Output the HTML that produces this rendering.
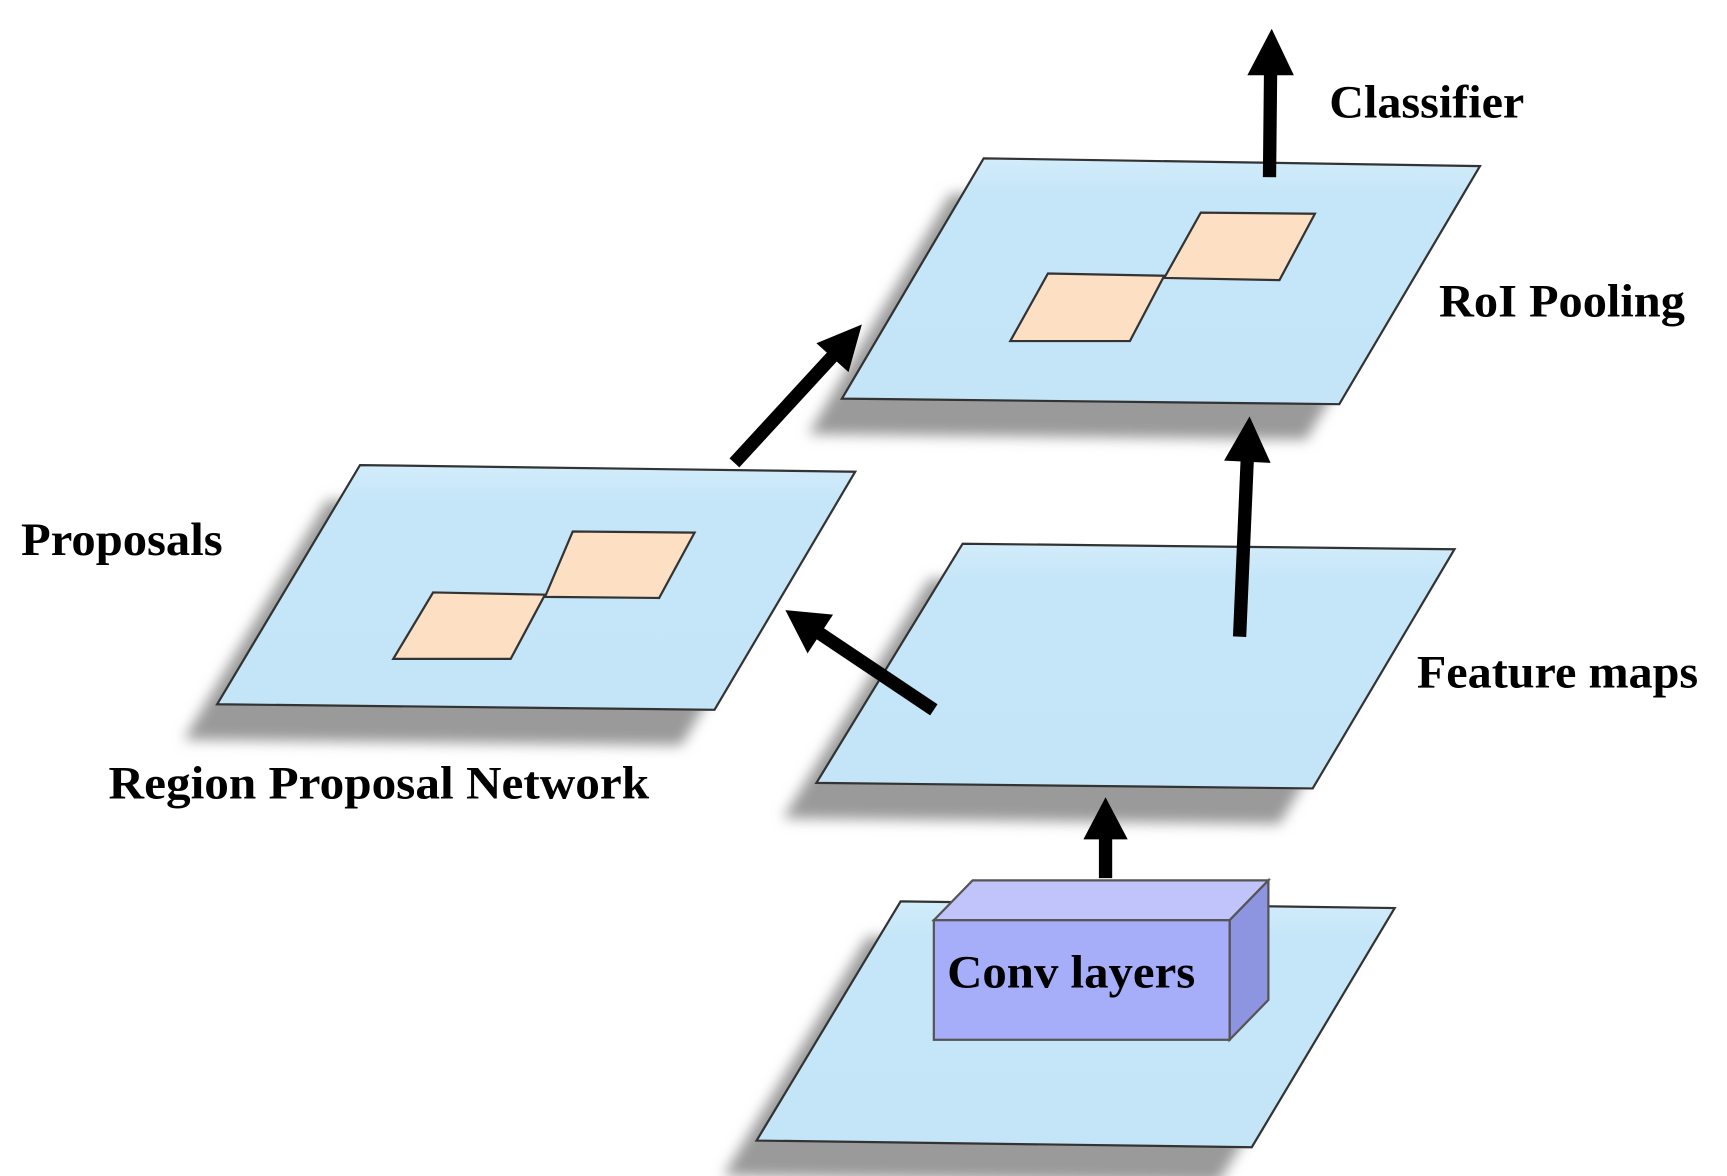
<!DOCTYPE html>
<html><head><style>html,body{margin:0;padding:0;background:#fff;}svg{display:block}</style></head>
<body>
<svg width="1727" height="1176" viewBox="0 0 1559 1062" preserveAspectRatio="none" xmlns="http://www.w3.org/2000/svg">
<defs>
<filter id="b" x="-20%" y="-20%" width="140%" height="140%"><feGaussianBlur stdDeviation="6"/></filter>
<linearGradient id="g" x1="0" y1="0" x2="0" y2="1"><stop offset="0" stop-color="#d2ecfa"/><stop offset="0.15" stop-color="#c4e6f8"/><stop offset="1" stop-color="#c3e5f7"/></linearGradient>
</defs>
<g transform="translate(-5,-2)">
<g fill="#9a9a9a" filter="url(#b)">
<polygon points="873,165 1321,172 1194,387 745,382" transform="translate(-10,12)"/>
<polygon points="310,442 757,448 630,663 181,658" transform="translate(-10,12)"/>
<polygon points="854,513 1298,518 1170,734 722,729" transform="translate(-10,12)"/>
<polygon points="798,836 1244,842 1115,1058 668,1052" transform="translate(-10,12)"/>
</g>
<g fill="url(#g)" stroke="#333" stroke-width="2">
<polygon points="893,145 1341,152 1214,367 765,362"/>
<polygon points="330,422 777,428 650,643 201,638"/>
<polygon points="874,493 1318,498 1190,714 742,709"/>
<polygon points="818,816 1264,822 1135,1038 688,1032"/>
</g>
<g fill="#fde0c4" stroke="#333" stroke-width="2">
<polygon points="1089,194 1192,195 1160,255 1056,253"/>
<polygon points="951,249 1056,251 1025,310 917,310"/>
<polygon points="522,482 632,483 600,542 497,541"/>
<polygon points="396,537 497,539 466,597 360,597"/>
</g>
<g stroke="#555" stroke-width="2">
<polygon points="848,833 883,797 1150,797 1115,833" fill="#c0c4fb"/>
<polygon points="1115,833 1150,797 1150,905 1115,941" fill="#8d95e0"/>
<rect x="848" y="833" width="267" height="108" fill="#a6aefa"/>
</g>
<g stroke="#000" stroke-width="12" fill="#000">
<line x1="1151" y1="162" x2="1152" y2="65"/>
<line x1="668" y1="420" x2="760" y2="320"/>
<line x1="1124" y1="577" x2="1131" y2="415"/>
<line x1="848" y1="643" x2="745" y2="574"/>
<line x1="1003" y1="795" x2="1003" y2="755"/>
</g>
<g fill="#000">
<polygon points="1153,28 1173,70 1131,70"/>
<polygon points="783,295 771,338 742,312"/>
<polygon points="1133,378 1152,420 1110,418"/>
<polygon points="714,553 757,557 734,592"/>
<polygon points="1003,722 1023,760 983,760"/>
</g>
</g>
<g font-family="Liberation Serif, serif" font-weight="bold" font-size="42" fill="#000">
<text x="1200" y="106" textLength="176" lengthAdjust="spacingAndGlyphs">Classifier</text>
<text x="1299" y="286" textLength="222" lengthAdjust="spacingAndGlyphs">RoI Pooling</text>
<text x="19" y="501" textLength="182" lengthAdjust="spacingAndGlyphs">Proposals</text>
<text x="1279" y="621" textLength="254" lengthAdjust="spacingAndGlyphs">Feature maps</text>
<text x="98" y="721" textLength="488" lengthAdjust="spacingAndGlyphs">Region Proposal Network</text>
<text x="855" y="892" textLength="224" lengthAdjust="spacingAndGlyphs">Conv layers</text>
</g>
</svg>
</body></html>
